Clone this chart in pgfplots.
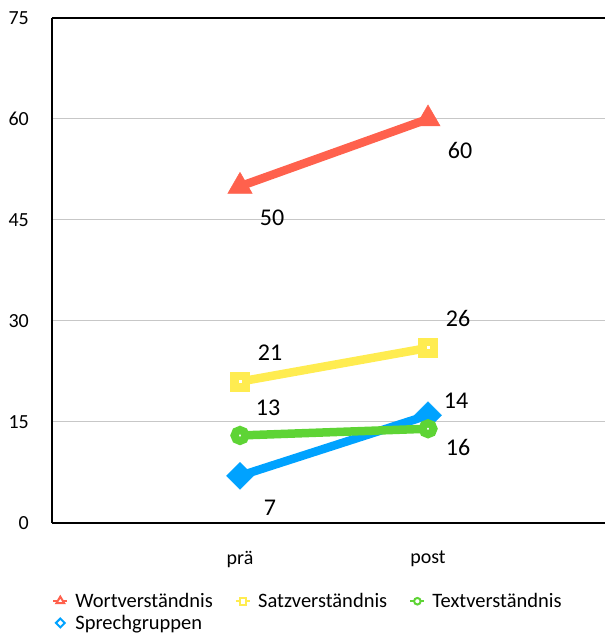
\documentclass[border=0pt]{standalone}
\usepackage{pgfplots}
\pgfplotsset{compat=1.18}
\usepackage{fontspec}
\setmainfont{Carlito}
\definecolor{cred}{RGB}{255,97,77}
\definecolor{cyel}{RGB}{255,236,80}
\definecolor{cgreen}{RGB}{94,212,53}
\definecolor{cblue}{RGB}{0,162,255}
\begin{document}
\begin{tikzpicture}
\begin{axis}[name=ax, scale only axis, width=553pt, height=505pt,
  xmin=0, xmax=2.9415, ymin=0, ymax=75,
  axis x line=box, axis y line=left,
  axis line style={line width=1.6pt, black, -},
  ytick={0,15,30,45,60,75}, xtick={1,2}, xticklabels={prä,post},
  major tick length=0pt,
  ymajorgrids, grid style={line width=1pt, color=black!22},
  /pgf/number format/assume math mode=true,
  tick label style={font=\fontsize{20}{20}\selectfont},
  yticklabel style={anchor=east, inner sep=0pt, xshift=-23pt},
  xticklabel style={anchor=center, inner sep=0pt, yshift=-36pt},
  nodes near coords,
  every node near coord/.append style={font=\fontsize{24}{24}\selectfont, anchor=center, black},
  legend columns=3,
  legend style={at={(0,-0.135)}, anchor=north west, draw=none, fill=none,
    font=\fontsize{20.5}{20.5}\selectfont, inner sep=0pt, row sep=2pt,
    /tikz/every even column/.append style={column sep=20pt},
    /tikz/every odd column/.append style={column sep=5pt},
    cells={anchor=west}},
  clip=false,
]
\addplot[cred, line width=8.5pt, mark=triangle*, mark size=14pt,
  mark options={fill=cred, line width=0.5pt},
  every node near coord/.append style={xshift=32pt, yshift=-31pt},
  legend image code/.code={\draw[cred, line width=2.2pt] (0pt,0pt) -- (14pt,0pt);
    \draw[cred, line width=2pt, fill=white] (7pt,4.6pt) -- (10.8pt,-1.8pt) -- (3.2pt,-1.8pt) -- cycle;}]
  coordinates {(1,50) (2,60)};
\addlegendentry{Wortverständnis}
\addplot[cyel, line width=8.5pt, mark=square*, mark size=5.75pt,
  mark options={fill=white, line width=8.5pt},
  every node near coord/.append style={xshift=30pt, yshift=29pt},
  legend image code/.code={\draw[cyel, line width=2.2pt] (0pt,0pt) -- (14pt,0pt);
    \draw[cyel, line width=2pt, fill=white] (3.6pt,-3.4pt) rectangle (10.4pt,3.4pt);}]
  coordinates {(1,21) (2,26)};
\addlegendentry{Satzverständnis}
\addplot[cblue, line width=8.5pt, mark=square*, mark size=9.5pt,
  mark options={fill=cblue, line width=0.5pt, rotate=45},
  every node near coord/.append style={xshift=30pt, yshift=-32pt},
  forget plot]
  coordinates {(1,7) (2,16)};
\addplot[cgreen, line width=8.5pt, mark=*, mark size=5.5pt,
  mark options={fill=white, line width=8pt},
  every node near coord/.append style={xshift=28pt, yshift=28pt},
  legend image code/.code={\draw[cgreen, line width=2.2pt] (0pt,0pt) -- (14pt,0pt);
    \draw[cgreen, line width=2pt, fill=white] (7pt,0pt) circle (3.3pt);}]
  coordinates {(1,13) (2,14)};
\addlegendentry{Textverständnis}
\addlegendimage{legend image code/.code={
    \draw[cblue, line width=2pt, fill=white] (7pt,4.4pt) -- (11.4pt,0pt) -- (7pt,-4.4pt) -- (2.6pt,0pt) -- cycle;}}
\addlegendentry{Sprechgruppen}
\end{axis}
\pgfresetboundingbox
\path[use as bounding box] ([xshift=-52pt,yshift=-110pt]ax.south west) rectangle ([yshift=18pt]ax.north east);
\end{tikzpicture}
\end{document}
